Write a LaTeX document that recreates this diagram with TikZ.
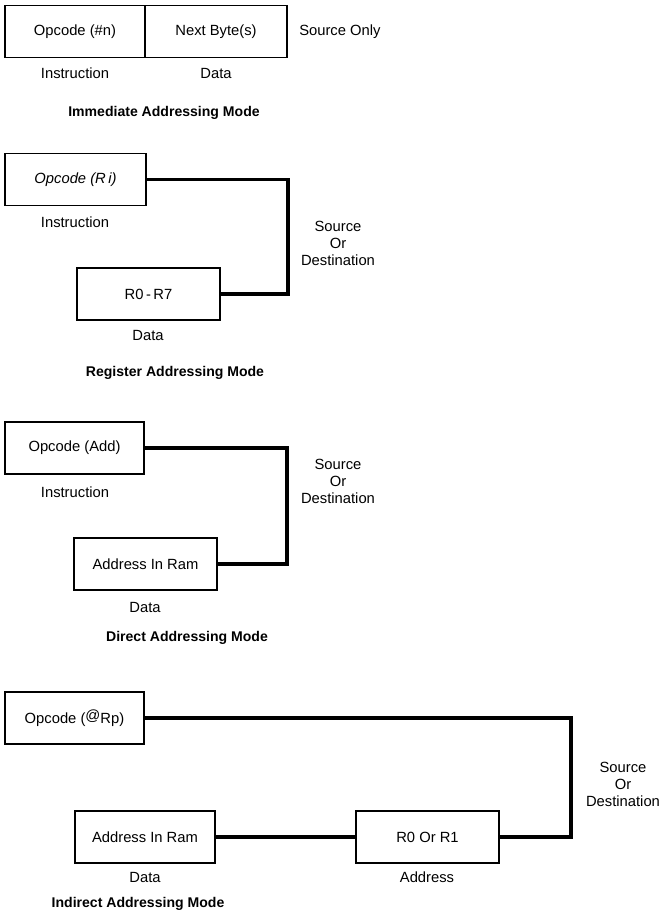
\documentclass[tikz,border=0pt]{standalone}
\usepackage{fontspec}
\setmainfont{Liberation Sans}

\tikzset{
	regbox/.style={draw, line width=0.8pt, inner sep=0pt, outer sep=0pt, minimum height=1.3cm, font=\fontsize{10.5}{12.5}\selectfont},
	bus/.style={line width=2.2pt},
	undertext/.style={font=\fontsize{10.5}{12.5}\selectfont},
	modename/.style={font=\fontsize{10}{12}\selectfont\bfseries},
	srcdst/.style={align=center, font=\fontsize{10.5}{12.1}\selectfont}
}

\begin{document}
\begin{tikzpicture}[x=0.025cm, y=-0.025cm]
			%%%%% START %%%%%
			\useasboundingbox (0, 0) rectangle (661, 919);
			
			% immediate
			\node[regbox, minimum width=3.5cm] (opN) at (75, 31.5) {Opcode (\#n)};
			\node[regbox, minimum width=3.55cm] (nextB) at (216, 31.5) {Next Byte(s)};
			\node[undertext, anchor=west, inner sep=0pt] (srcOnly) at (299, 32) {Source Only};
			\node[undertext] (instrA) at (75, 73) {Instruction};
			\node[undertext] (dataA) at (216, 73) {Data};
			\node[modename] (modeA) at (164, 113) {Immediate Addressing Mode};
			
			% register
			\node[regbox, minimum width=3.525cm] (opRi) at (75.5, 179.5) {\itshape Opcode (R\,i)};
			\node[regbox, minimum width=3.575cm] (regR) at (148.5, 294) {R0\,-\,R7};
			\coordinate (turnB) at (288, 0);
			\draw[bus] (opRi.east) -- (opRi.east -| turnB) |- (regR.east);
			\node[undertext] (instrB) at (75, 222) {Instruction};
			\node[undertext] (dataB) at (148, 335) {Data};
			\node[srcdst] (sdB) at (338, 243) {Source\\Or\\Destination};
			\node[modename] (modeB) at (175, 373) {Register Addressing Mode};
			
			% direct
			\node[regbox, minimum width=3.475cm] (opAdd) at (74.5, 448) {Opcode (Add)};
			\node[regbox, minimum width=3.575cm] (ramC) at (145.5, 564) {Address In Ram};
			\coordinate (turnC) at (287, 0);
			\draw[bus] (opAdd.east) -- (opAdd.east -| turnC) |- (ramC.east);
			\node[undertext] (instrC) at (75, 492) {Instruction};
			\node[undertext] (dataC) at (145, 607) {Data};
			\node[srcdst] (sdC) at (338, 481) {Source\\Or\\Destination};
			\node[modename] (modeC) at (187, 638) {Direct Addressing Mode};
			
			% indirect
			\node[regbox, minimum width=3.475cm] (opRp) at (74.5, 718) {Opcode (\raisebox{0.35ex}{@}Rp)};
			\node[regbox, minimum width=3.5cm] (ramD) at (145, 837) {Address In Ram};
			\node[regbox, minimum width=3.575cm] (ptrD) at (427.5, 837) {R0 Or R1};
			\coordinate (turnD) at (571, 0);
			\draw[bus] (opRp.east) -- (opRp.east -| turnD) |- (ptrD.east);
			\draw[bus] (ramD) -- (ptrD);
			\node[undertext] (dataD) at (145, 877) {Data};
			\node[undertext] (addrD) at (427, 877) {Address};
			\node[srcdst] (sdD) at (623, 784) {Source\\Or\\Destination};
			\node[modename] (modeD) at (138, 904) {Indirect Addressing Mode};
			
			%%%%% END %%%%%
\end{tikzpicture}
\end{document}
